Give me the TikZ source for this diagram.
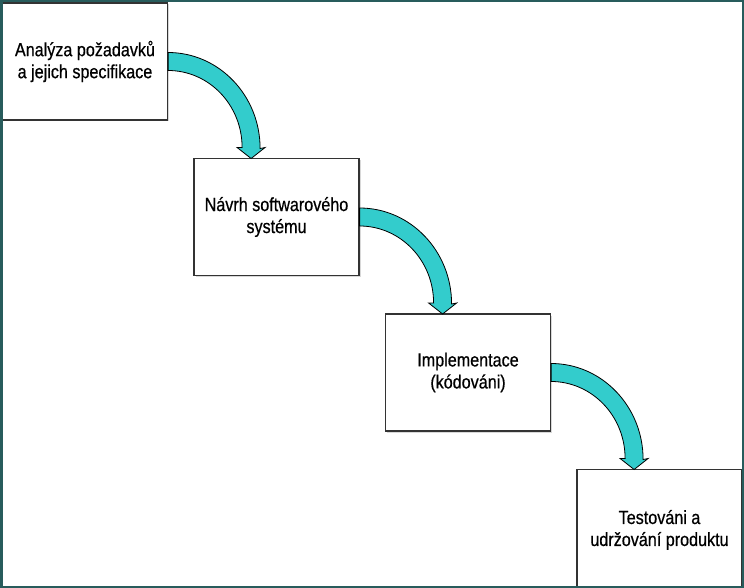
\documentclass[tikz,border=0pt]{standalone}
\usepackage{fontspec}
\setmainfont{Liberation Sans}[FakeStretch=0.85,FakeBold=0.6]
\usetikzlibrary{shadows}

\definecolor{framecol}{RGB}{40,92,92}
\definecolor{arrowcol}{RGB}{51,204,204}

\tikzset{
  phase/.style={draw=black!80, line width=1.2pt, fill=white,
    minimum width=165pt, minimum height=117pt, align=center,
    font=\fontsize{19}{22}\selectfont,
    drop shadow={shadow xshift=1.5pt, shadow yshift=-1.5pt, fill=black!30}},
  bend arrow/.style={draw=black, line width=0.8pt, fill=arrowcol}
}

% curved block arrow from the east side of a box down to the next box
\newcommand{\phasearrow}[1]{%
  \draw[bend arrow, shift={(#1.east)}] (0,9)
    arc[start angle=90, end angle=0, x radius=92, y radius=96]
    -- (97,-86) -- (83,-97) -- (69,-86) -- (74,-86)
    arc[start angle=0, end angle=90, x radius=74, y radius=77] -- cycle;}

\begin{document}
\begin{tikzpicture}[x=1pt,y=1pt]
\useasboundingbox (0,0) rectangle (744,-588);
\fill[white] (0,0) rectangle (744,-588);

\node[phase] (analyza) at (85,-61.5) {Analýza požadavků\\a jejich specifikace};
\node[phase] (navrh) at (276.5,-217) {Návrh softwarového\\systému};
\node[phase] (implementace) at (468,-372.5) {Implementace\\(kódováni)};
\node[phase, text depth=-8pt] (testovani) at (659.5,-528) {Testováni a\\udržování produktu};

\phasearrow{analyza}
\phasearrow{navrh}
\phasearrow{implementace}

% outer frame
\draw[framecol, line width=5pt] (0,0) rectangle (744,-588);
\draw[framecol, line width=3pt] (1.5,0) -- (1.5,-588);
\end{tikzpicture}
\end{document}
